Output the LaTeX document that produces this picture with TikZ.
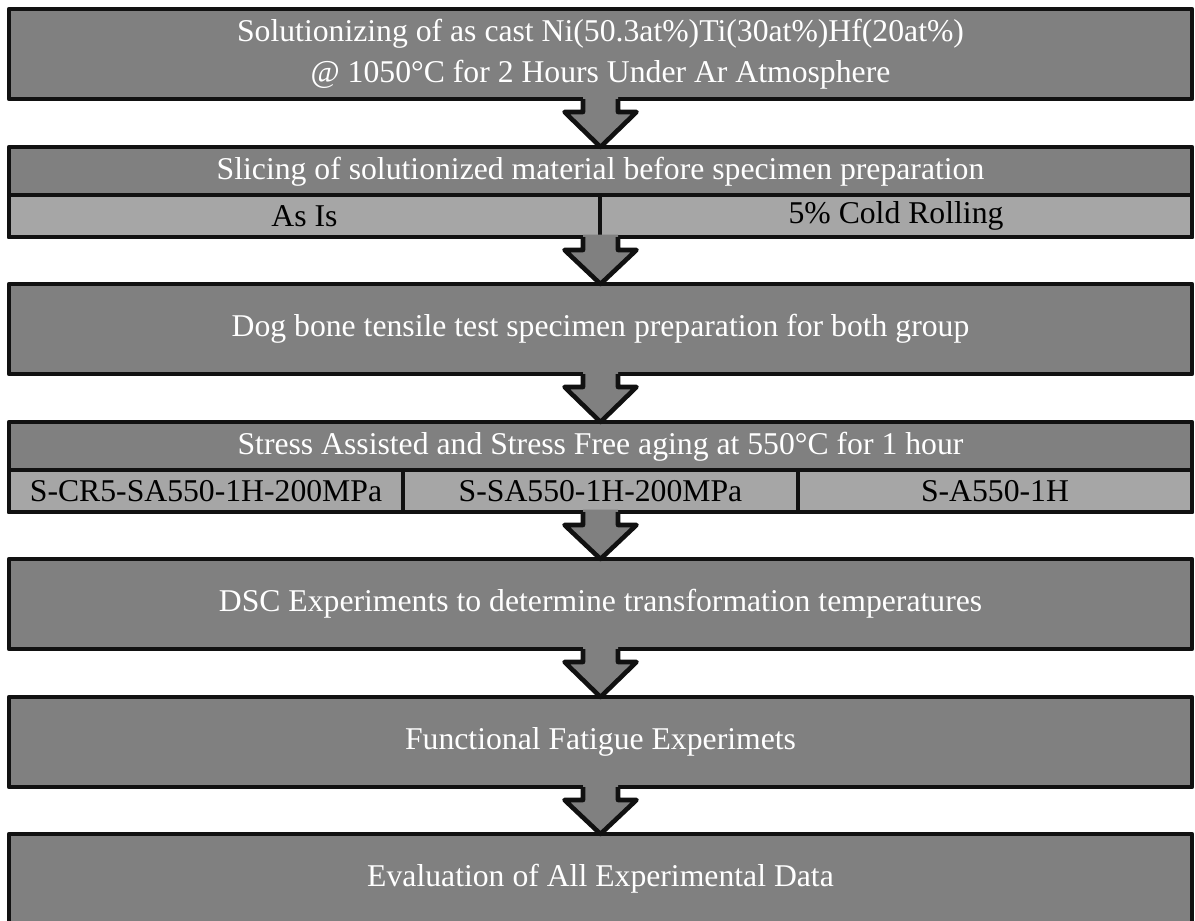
\documentclass[tikz,border=0pt]{standalone}
\usepackage{fontspec}
\setmainfont{Liberation Serif}
\usetikzlibrary{calc}
\definecolor{boxgray}{HTML}{808080}
\definecolor{subgray}{HTML}{A6A6A6}
\definecolor{edge}{HTML}{111111}
\tikzset{
  box/.style={rectangle, draw=edge, fill=boxgray, line width=4.6pt, line join=round,
    minimum width=1183pt, minimum height=90pt, inner sep=0pt, outer sep=0pt,
    text=white, font=\fontsize{31.7}{41}\selectfont, align=center},
  titletext/.style={inner sep=0pt, outer sep=0pt, text=white, font=\fontsize{31.7}{41}\selectfont},
  subbox/.style={rectangle, draw=edge, fill=subgray, line width=4.6pt, line join=round,
    minimum height=42pt, inner sep=0pt, outer sep=0pt,
    text=black, font=\fontsize{31.7}{41}\selectfont},
}
\newcommand{\flowarrow}[2]{%
  \fill[boxgray] ($(#1.south)+(-17.5,2.5)$) -- ($(#1.south)+(-17.5,-13)$) -- ($(#1.south)+(-36,-13)$)
     -- (#2.north) -- ($(#1.south)+(36,-13)$) -- ($(#1.south)+(17.5,-13)$) -- ($(#1.south)+(17.5,2.5)$) -- cycle;
  \draw[edge, line width=4.6pt, line join=round] ($(#1.south)+(-17.5,0)$) -- ($(#1.south)+(-17.5,-13)$) -- ($(#1.south)+(-36,-13)$)
     -- (#2.north) -- ($(#1.south)+(36,-13)$) -- ($(#1.south)+(17.5,-13)$) -- ($(#1.south)+(17.5,0)$);
}
\begin{document}
\begin{tikzpicture}[x=1pt,y=1pt]
\useasboundingbox (0,0) rectangle (1195,-921);
% box 1
\node[box] (b1) at (600.5,-54) {Solutionizing of as cast Ni(50.3at\%)Ti(30at\%)Hf(20at\%)\\@ 1050°C for 2 Hours Under Ar Atmosphere};
% box 2
\node[box] (b2) at (600.5,-192) {};
\node[titletext] (t2) at (600.5,-172) {Slicing of solutionized material before specimen preparation};
\node[subbox, minimum width=591pt] (s21) at (304.5,-216) {As Is};
\node[subbox, minimum width=592pt] (s22) at (896,-216) {5\% Cold Rolling};
% box 3
\node[box] (b3) at (600.5,-329) {Dog bone tensile test specimen preparation for both group};
% box 4
\node[box] (b4) at (600.5,-467) {};
\node[titletext] (t4) at (600.5,-447) {Stress Assisted and Stress Free aging at 550°C for 1 hour};
\node[subbox, minimum width=394pt] (s41) at (206,-491) {S-CR5-SA550-1H-200MPa};
\node[subbox, minimum width=395pt] (s42) at (600.5,-491) {S-SA550-1H-200MPa};
\node[subbox, minimum width=394pt] (s43) at (995,-491) {S-A550-1H};
% box 5-7
\node[box] (b5) at (600.5,-604) {DSC Experiments to determine transformation temperatures};
\node[box] (b6) at (600.5,-742) {Functional Fatigue Experimets};
\node[box] (b7) at (600.5,-879) {Evaluation of All Experimental Data};
% arrows
\flowarrow{b1}{b2}
\flowarrow{b2}{b3}
\flowarrow{b3}{b4}
\flowarrow{b4}{b5}
\flowarrow{b5}{b6}
\flowarrow{b6}{b7}
\end{tikzpicture}
\end{document}
